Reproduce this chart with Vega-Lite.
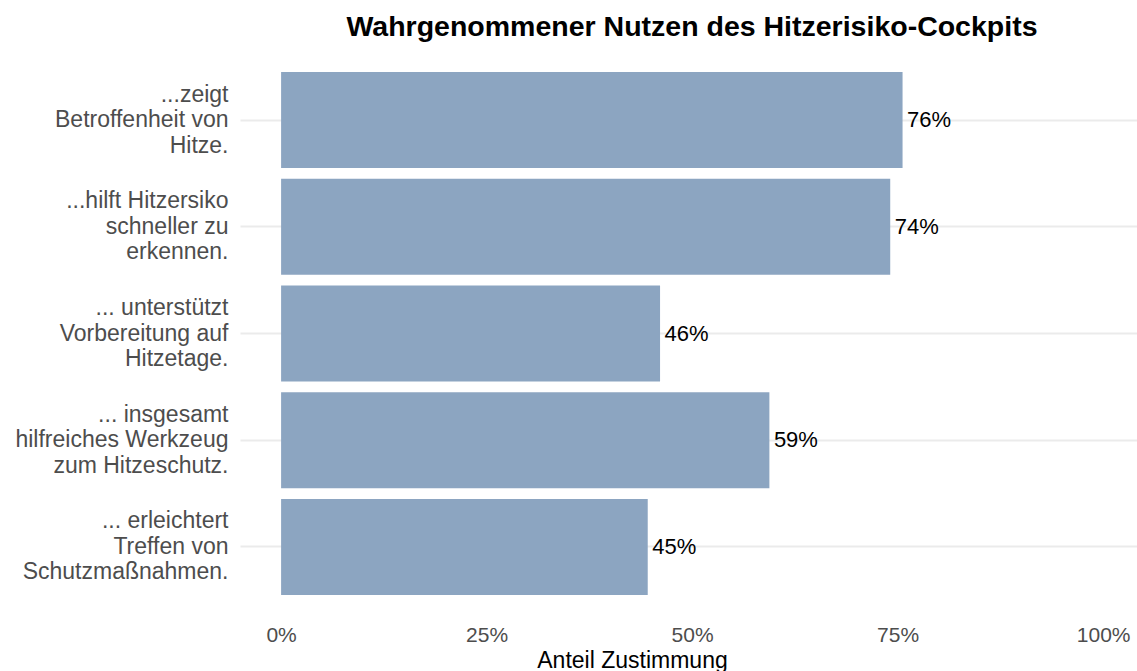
{
  "$schema": "https://vega.github.io/schema/vega-lite/v6.json",
  "width": 897,
  "height": 555,
  "autosize": {"type": "none"},
  "padding": {"left": 240, "top": 56, "right": 0, "bottom": 60},
  "background": "white",
  "config": {"font": "Liberation Sans", "view": {"stroke": null}},
  "title": {
    "text": "Wahrgenommener Nutzen des Hitzerisiko-Cockpits",
    "anchor": "middle",
    "frame": "group",
    "fontSize": 28.5,
    "fontWeight": "bold",
    "color": "black",
    "baseline": "alphabetic",
    "offset": 21,
    "dx": 3.5,
    "dy": 29
  },
  "data": {
    "values": [
      {"aussage": "...zeigt\nBetroffenheit von\nHitze.", "anteil": 0.756},
      {"aussage": "...hilft Hitzersiko\nschneller zu\nerkennen.", "anteil": 0.741},
      {"aussage": "... unterstützt\nVorbereitung auf\nHitzetage.", "anteil": 0.461},
      {"aussage": "... insgesamt\nhilfreiches Werkzeug\nzum Hitzeschutz.", "anteil": 0.594},
      {"aussage": "... erleichtert\nTreffen von\nSchutzmaßnahmen.", "anteil": 0.446}
    ]
  },
  "encoding": {
    "y": {
      "field": "aussage",
      "type": "nominal",
      "sort": null,
      "scale": {"paddingInner": 0.1, "paddingOuter": 0.15},
      "axis": {
        "title": null,
        "ticks": false,
        "domain": false,
        "labelPadding": 12,
        "labelFontSize": 23,
        "labelColor": "#4d4d4d",
        "labelLineHeight": 25.5,
        "labelLimit": 0,
        "labelOffset": -25.5,
        "labelExpr": "split(datum.label, '\\n')",
        "grid": true,
        "gridColor": "#ebebeb",
        "gridWidth": 2,
        "bandPosition": 0.5
      }
    }
  },
  "layer": [
    {
      "mark": {"type": "bar", "color": "#8ca5c1"},
      "encoding": {
        "x": {
          "field": "anteil",
          "type": "quantitative",
          "scale": {"domain": [-0.05, 1.0412], "nice": false, "zero": false},
          "axis": {
            "values": [0, 0.25, 0.5, 0.75, 1],
            "format": ".0%",
            "title": "Anteil Zustimmung",
            "grid": false,
            "ticks": false,
            "domain": false,
            "labelFontSize": 21,
            "labelColor": "#4d4d4d",
            "labelPadding": 13.5,
            "labelFlush": false,
            "labelOverlap": false,
            "titleFontSize": 23,
            "titleFontWeight": "normal",
            "titleColor": "black",
            "titleX": 392,
            "titleY": 56,
            "titleBaseline": "alphabetic",
            "titleAlign": "center"
          }
        },
        "x2": {"datum": 0}
      }
    },
    {
      "mark": {"type": "text", "align": "left", "baseline": "middle", "dx": 4.5, "fontSize": 22, "color": "black"},
      "encoding": {
        "x": {"field": "anteil", "type": "quantitative"},
        "text": {"field": "anteil", "type": "quantitative", "format": ".0%"}
      }
    }
  ]
}
